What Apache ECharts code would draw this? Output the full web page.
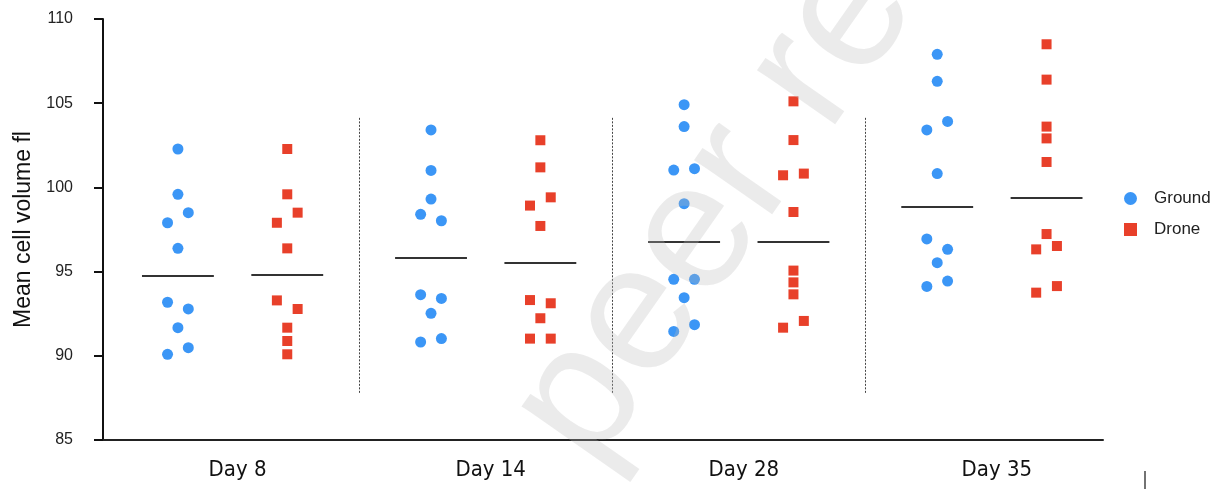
<!DOCTYPE html>
<html>
<head>
<meta charset="utf-8">
<script src="https://cdn.jsdelivr.net/npm/echarts@6/dist/echarts.min.js"></script>
<style>
  html, body { margin: 0; background: #fff; }
  #chart { width: 1226px; height: 489px; }
</style>
</head>
<body>
<div id="chart"></div>
<script>
// categories
const days = ['Day 8', 'Day 14', 'Day 28', 'Day 35'];

// mean cell volume per animal, one row per day
const groundValues = [
  [102.28, 99.59, 98.50, 97.90, 96.38, 93.18, 92.78, 91.67, 90.48, 90.09],
  [103.41, 101.01, 99.31, 98.40, 98.02, 93.63, 93.41, 92.52, 91.02, 90.82],
  [104.91, 103.61, 101.03, 101.11, 99.03, 94.54, 94.54, 93.45, 91.85, 91.45],
  [107.90, 106.30, 103.92, 103.41, 100.82, 96.94, 96.32, 95.53, 94.44, 94.12]
];
const droneValues = [
  [102.28, 99.59, 98.50, 97.90, 96.38, 93.29, 92.78, 91.67, 90.88, 90.09],
  [102.80, 101.19, 99.41, 98.92, 97.71, 93.31, 93.12, 92.23, 91.02, 91.02],
  [105.11, 102.81, 100.72, 100.82, 98.54, 95.06, 94.36, 93.65, 92.07, 91.67],
  [108.50, 106.40, 103.61, 102.91, 101.51, 97.23, 96.52, 96.32, 94.14, 93.75]
];
// beeswarm column of each point (-1 left, 0 middle, 1 right)
const groundColumn = [
  [0, 0, 1, -1, 0, -1, 1, 0, 1, -1],
  [0, 0, 0, -1, 1, -1, 1, 0, 1, -1],
  [0, 0, -1, 1, 0, -1, 1, 0, 1, -1],
  [0, 0, 1, -1, 0, -1, 1, 0, 1, -1]
];
const droneColumn = [
  [0, 0, 1, -1, 0, -1, 1, 0, 0, 0],
  [0, 0, 1, -1, 0, -1, 1, 0, -1, 1],
  [0, 0, -1, 1, 0, 0, 0, 0, 1, -1],
  [0, 0, 0, 0, 0, 0, 1, -1, 1, -1]
];

const yTicks = [85, 90, 95, 100, 105, 110];

const SIDE = 0.216;     // offset of each group from the day centre
const JITTER = 0.041;   // width of one beeswarm column
const HALF_LINE = 0.142;

function median(arr) {
  const s = arr.slice().sort((a, b) => a - b);
  const m = s.length / 2;
  return s.length % 2 ? s[Math.floor(m)] : (s[m - 1] + s[m]) / 2;
}

function points(values, columns, side) {
  const out = [];
  values.forEach((row, i) => {
    row.forEach((v, k) => {
      out.push([i + 1 + side * SIDE + columns[i][k] * JITTER, v]);
    });
  });
  return out;
}

function medianLines(values, side) {
  return values.map((row, i) => {
    const x = i + 1 + side * SIDE;
    const m = median(row);
    return [{ coord: [x - HALF_LINE, m] }, { coord: [x + HALF_LINE, m] }];
  });
}

const separators = days.slice(1).map((d, i) => [
  { coord: [i + 1.5, 87.8] }, { coord: [i + 1.5, 104.2] }
]);

const chart = echarts.init(document.getElementById('chart'));

const option = {
  animation: false,
  grid: { left: 103, right: 123, top: 19, bottom: 49 },
  xAxis: {
    type: 'value',
    min: 0.488,
    max: 4.439,
    splitLine: { show: false },
    axisTick: { show: false },
    axisLine: { onZero: false, lineStyle: { color: '#222', width: 2 } },
    axisLabel: {
      customValues: [1, 2, 3, 4],
      formatter: v => days[Math.round(v) - 1] || '',
      margin: 19,
      padding: [0, 0, 0, 10],
      fontFamily: '"Liberation Sans Narrow", "DejaVu Sans Condensed", sans-serif',
      fontSize: 22,
      color: '#111'
    }
  },
  yAxis: {
    type: 'value',
    min: 85,
    max: 110,
    interval: 5,
    name: 'Mean cell volume fl',
    nameLocation: 'middle',
    nameGap: 67,
    nameTextStyle: { fontFamily: '"Liberation Sans", Arial, sans-serif', fontSize: 23, color: '#111' },
    splitLine: { show: false },
    axisLine: { show: true, lineStyle: { color: '#111', width: 2 } },
    axisTick: { show: true, length: 9, lineStyle: { color: '#111', width: 2 } },
    axisLabel: {
      margin: 30,
      fontFamily: '"Liberation Sans", Arial, sans-serif',
      fontSize: 16,
      color: '#222',
      formatter: v => (yTicks.includes(v) ? String(v) : '')
    }
  },
  legend: {
    orient: 'vertical',
    left: 1119,
    top: 185,
    itemWidth: 13,
    itemHeight: 13,
    itemGap: 14,
    textStyle: {
      fontFamily: '"Liberation Sans", Arial, sans-serif',
      fontSize: 17,
      color: '#222',
      padding: [0, 0, 0, 12]
    },
    data: ['Ground', 'Drone']
  },
  series: [
    {
      name: 'Ground',
      type: 'scatter',
      symbol: 'circle',
      symbolSize: 11,
      itemStyle: { color: '#3b96f6', opacity: 1 },
      data: points(groundValues, groundColumn, -1),
      markLine: {
        silent: true,
        symbol: 'none',
        label: { show: false },
        lineStyle: { color: '#333', width: 2, type: 'solid' },
        data: medianLines(groundValues, -1)
      }
    },
    {
      name: 'Drone',
      type: 'scatter',
      symbol: 'rect',
      symbolSize: 10,
      itemStyle: { color: '#e8402a', opacity: 1 },
      data: points(droneValues, droneColumn, 1),
      markLine: {
        silent: true,
        symbol: 'none',
        label: { show: false },
        lineStyle: { color: '#333', width: 2, type: 'solid' },
        data: medianLines(droneValues, 1)
      }
    },
    {
      name: 'separators',
      type: 'scatter',
      data: [],
      markLine: {
        silent: true,
        symbol: 'none',
        label: { show: false },
        lineStyle: { color: '#444', width: 1, type: [2, 1.5] },
        data: separators
      }
    }
  ],
  graphic: [
    {
      type: 'text',
      x: 552,
      y: 442,
      rotation: 55 * Math.PI / 180,
      z: 100,
      silent: true,
      style: {
        text: 'peer review',
        fontSize: 180,
        fontFamily: '"Liberation Sans", Arial, sans-serif',
        fill: 'rgba(185,185,185,0.29)',
        align: 'left',
        verticalAlign: 'middle'
      }
    },
    {
      type: 'line',
      silent: true,
      shape: { x1: 1145, y1: 471, x2: 1145, y2: 489 },
      style: { stroke: '#444', lineWidth: 1.5 }
    }
  ]
};

chart.setOption(option);
</script>
</body>
</html>
